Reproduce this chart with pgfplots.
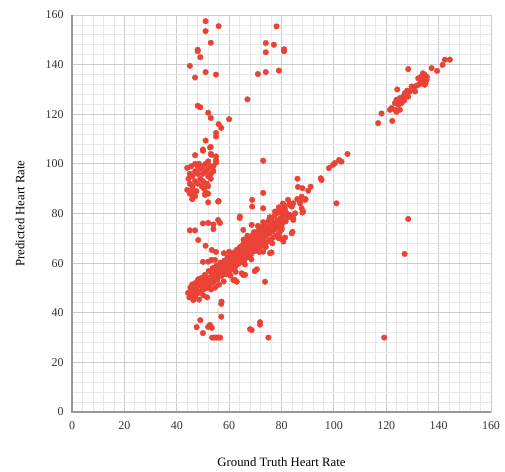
\documentclass[border=0pt]{standalone}
\usepackage{fontspec}
\setmainfont{Liberation Serif}
\usepackage{pgfplots}
\pgfplotsset{compat=1.18}
\definecolor{ptred}{RGB}{234,67,53}

% scattered points (upper left and upper middle groups)
\pgfplotstableread{
x y
51 157.5
56 155.5
51 153.5
53 148.8
48 146
48 145.4
49 143
45 139.5
51 137
55 136
47 134.8
67 126
48 123.4
49 122.8
52 120.6
53 118.5
60 118
56 116
57 114.5
55 112.5
55 111
51 109.4
53 106.8
50 105.3
50 105.8
47 103.5
53 104
55 103
55 101.5
55 100.5
54 99
78.1 155.4
74 148.7
77.1 148
74 145
81 146.2
81 145.4
71 136.2
74 137
79 137.6
44 98.4
45 96
44.5 94
45 92
46 95
46 90
46.5 88
47 93
47 97
48 99
48 96
48 92
47.5 89
46 86
45 88
44 89.5
49 98
49 94
50 99
50 96
49.5 91
51 97
51 100
52 98
52 95
51.5 92
52 101
53 99
53 96
50 93
51 88
50.5 90
52 88
52 84.5
56 85
52 91
54 97
53 94
48.5 100
47 100
45.5 99
46 91
47 87
45.9 85.8
51 88.5
50.8 87.5
55.8 84.8
52.7 106.6
53.3 103.6
}\upperpts

% outliers and points around the main band
\pgfplotstableread{
x y
45 73.2
47 73.2
50 76
52 76.2
54 75.6
54 73.7
55.8 77.4
56.5 76.2
64 78.2
68.8 85.5
68.8 82.8
73 88.3
73 82.1
73 101.3
48.2 69.3
51 67
53.4 65.3
55 64.5
58 64
60 64.6
57 43.6
57 38.4
49 37
47.6 34.2
50 31.8
52 34.3
53.4 33.9
52.7 35.1
53.5 30
54.3 30
55.1 30
55.9 30
56.6 30
68 33.4
68.6 33
71.8 36.2
71.8 35.2
75 30
119.2 30
127 63.7
73.7 52.5
69.8 56.8
70.6 57.5
65.4 55.2
66.1 55.3
64.8 55.9
62.2 53.2
62.9 52.5
61.6 53.2
57.1 44.5
76.2 64.3
73 64.6
75.6 64
80 73.4
83.9 72
84.2 72.6
80 70
80.7 68.7
80.1 74.1
81.4 70.3
80.1 80.1
83.2 78.8
84.5 78.1
84.5 77.4
81 83.3
83.2 83.9
83.9 82.8
86 85.8
89.2 85.8
87 84.8
89 85.5
87.7 82.1
88.2 80.8
88 80.4
86.3 90.7
88 90.2
90.2 89.2
91.1 90.8
86.1 94
95 94.2
95.3 93.5
98.1 98.3
99.7 99.6
100.4 100.3
102 101.6
102.9 100.9
105.2 104
101 84.1
128.4 77.8
83.2 83.4
84.5 84.1
83.2 79.4
85.2 80.1
81.4 81.4
87.1 84.1
87.7 86.8
64.1 78.8
65.4 73.4
52 60.6
53.3 61.3
50 60.5
54.6 61.3
53.8 58
68.6 75.4
}\outerpts

% main diagonal band
\pgfplotstableread{
x y
44.3 48.0
44.8 46.2
45.2 50.1
45.6 47.8
45.9 51.4
46.3 45.1
46.7 49.3
47.0 46.4
47.2 52.0
47.6 50.2
47.9 47.8
48.2 53.5
48.5 45.3
48.8 51.1
49.1 48.6
49.4 54.0
49.8 50.5
50.1 47.0
50.3 52.6
50.7 55.2
51.0 49.8
51.3 51.9
51.6 46.2
51.9 54.1
52.2 56.8
52.5 51.0
52.8 53.3
53.1 49.4
53.4 55.6
53.7 57.9
54.0 52.2
54.3 54.5
54.6 50.1
54.9 56.7
55.2 59.0
55.5 53.4
55.8 55.5
56.1 51.3
56.4 57.9
56.7 60.2
57.0 54.8
57.3 56.6
57.6 59.3
57.9 52.6
58.2 61.0
58.5 57.4
58.8 55.5
59.1 60.2
59.4 62.4
59.7 58.1
60.0 56.4
60.3 61.2
60.6 63.1
60.9 59.0
61.2 57.5
61.5 62.0
61.8 64.3
62.1 60.2
62.4 58.6
62.7 63.2
63.0 65.4
63.3 61.5
63.6 59.7
63.9 64.0
64.2 66.5
64.5 62.3
64.8 60.6
65.1 65.1
65.4 67.8
65.7 63.4
66.0 61.5
66.3 66.3
66.6 68.9
66.9 64.5
67.2 62.6
67.5 67.4
67.8 70.1
68.1 65.5
68.4 63.6
68.7 68.6
69.0 71.2
69.3 66.7
69.6 64.8
69.9 69.8
70.2 72.3
70.5 67.9
70.8 65.9
71.1 70.9
71.4 73.4
71.7 68.8
72.0 66.7
72.3 72.0
72.6 74.6
72.9 69.8
73.2 67.6
73.5 73.1
73.8 75.8
74.1 70.9
74.4 68.5
74.7 74.0
75.0 77.0
75.3 71.9
75.6 69.4
75.9 75.1
76.2 78.1
76.5 72.8
76.8 70.3
77.1 76.2
77.4 79.2
77.7 73.7
78.0 71.2
78.3 77.1
78.6 80.3
78.9 74.6
79.2 72.1
79.5 78.0
79.8 81.4
80.1 75.6
80.4 77.3
80.8 79.3
81.2 82.2
81.6 76.8
82.0 80.0
82.4 78.5
45.5 49.0
46.5 47.0
47.5 48.5
48.0 50.8
49.0 52.3
50.0 49.3
51.0 53.5
52.0 50.3
53.0 52.0
54.0 55.3
55.0 54.0
56.0 56.3
57.0 58.0
58.0 59.6
59.0 58.3
60.0 59.8
61.0 60.9
62.0 62.0
63.0 63.3
64.0 63.7
65.0 64.0
66.0 65.0
67.0 65.9
68.0 66.8
69.0 68.0
70.0 69.2
71.0 69.6
72.0 70.3
73.0 71.6
74.0 72.4
75.0 73.2
76.0 74.3
77.0 74.9
78.0 75.7
79.0 76.5
80.0 77.0
65.5 69.5
67.0 71.0
69.5 72.5
71.0 75.0
73.0 76.5
75.5 78.5
77.5 80.8
79.0 82.5
80.5 84.0
82.5 85.5
66.0 59.5
68.5 61.5
71.5 64.5
74.0 66.5
76.5 68.0
79.0 70.0
62.5 56.5
60.5 55.0
}\bandpts

% upper right group
\pgfplotstableread{
x y
128.4 138.2
116.9 116.4
118.2 120.3
122.3 117.3
121.4 121.8
123.3 121.8
124.2 130
123.9 125.8
125.2 126.5
125.8 124.5
124.6 123.8
123.3 124.5
125.2 121.8
126.5 127.1
128.4 127.1
129 129.2
130.3 130.5
131 129.2
129.7 131.2
132.2 134.5
133.5 135.2
134.1 133.2
134.7 135.9
135.4 133.9
133.5 132.5
134.7 131.9
137.3 138.6
139.4 137.5
141.5 139.9
142.4 142
144.3 142
122 122.5
123.9 121
127.1 128.5
124.5 125
126 126
127.5 128
131.5 131.5
132.5 132
133 134
135.5 135
134 136.5
135 132.5
128 129.5
126.8 125.5
}\rightpts

\begin{document}
\begin{tikzpicture}
\path[use as bounding box] (-72bp,-60bp) rectangle (433bp,412bp);
\begin{axis}[
  at={(0,0)}, anchor=south west,
  scale only axis, width=419bp, height=397bp,
  xmin=0, xmax=160, ymin=0, ymax=160,
  xtick={0,20,...,160}, ytick={0,20,...,160},
  minor x tick num=4, minor y tick num=4,
  grid=both,
  major grid style={draw=gray!40, line width=0.8pt},
  minor grid style={draw=gray!18, line width=0.8pt},
  axis line style={draw=gray!40, line width=0.8pt},
  major tick length=0pt, minor tick length=0pt,
  /pgf/number format/assume math mode=true,
  tick label style={font=\fontsize{12}{14}\selectfont, text=black!80},
  xticklabel style={yshift=-6bp},
  yticklabel style={xshift=-5bp},
  label style={font=\fontsize{12.8}{15}\selectfont},
  xlabel={Ground Truth Heart Rate},
  ylabel={Predicted Heart Rate},
  xlabel style={at={(axis description cs:0.5,-0.126)}, anchor=center},
  ylabel style={at={(axis description cs:-0.124,0.5)}, anchor=center},
  clip=false,
]
\addplot[only marks, mark=*, mark size=2.8pt, color=ptred] table {\upperpts};
\addplot[only marks, mark=*, mark size=2.8pt, color=ptred] table {\outerpts};
\addplot[only marks, mark=*, mark size=2.8pt, color=ptred] table {\bandpts};
\addplot[only marks, mark=*, mark size=2.8pt, color=ptred] table {\rightpts};
\draw[gray!80, line width=1.5pt] (rel axis cs:0,1) -- (rel axis cs:0,0) -- (rel axis cs:1,0);
\end{axis}
\end{tikzpicture}
\end{document}
